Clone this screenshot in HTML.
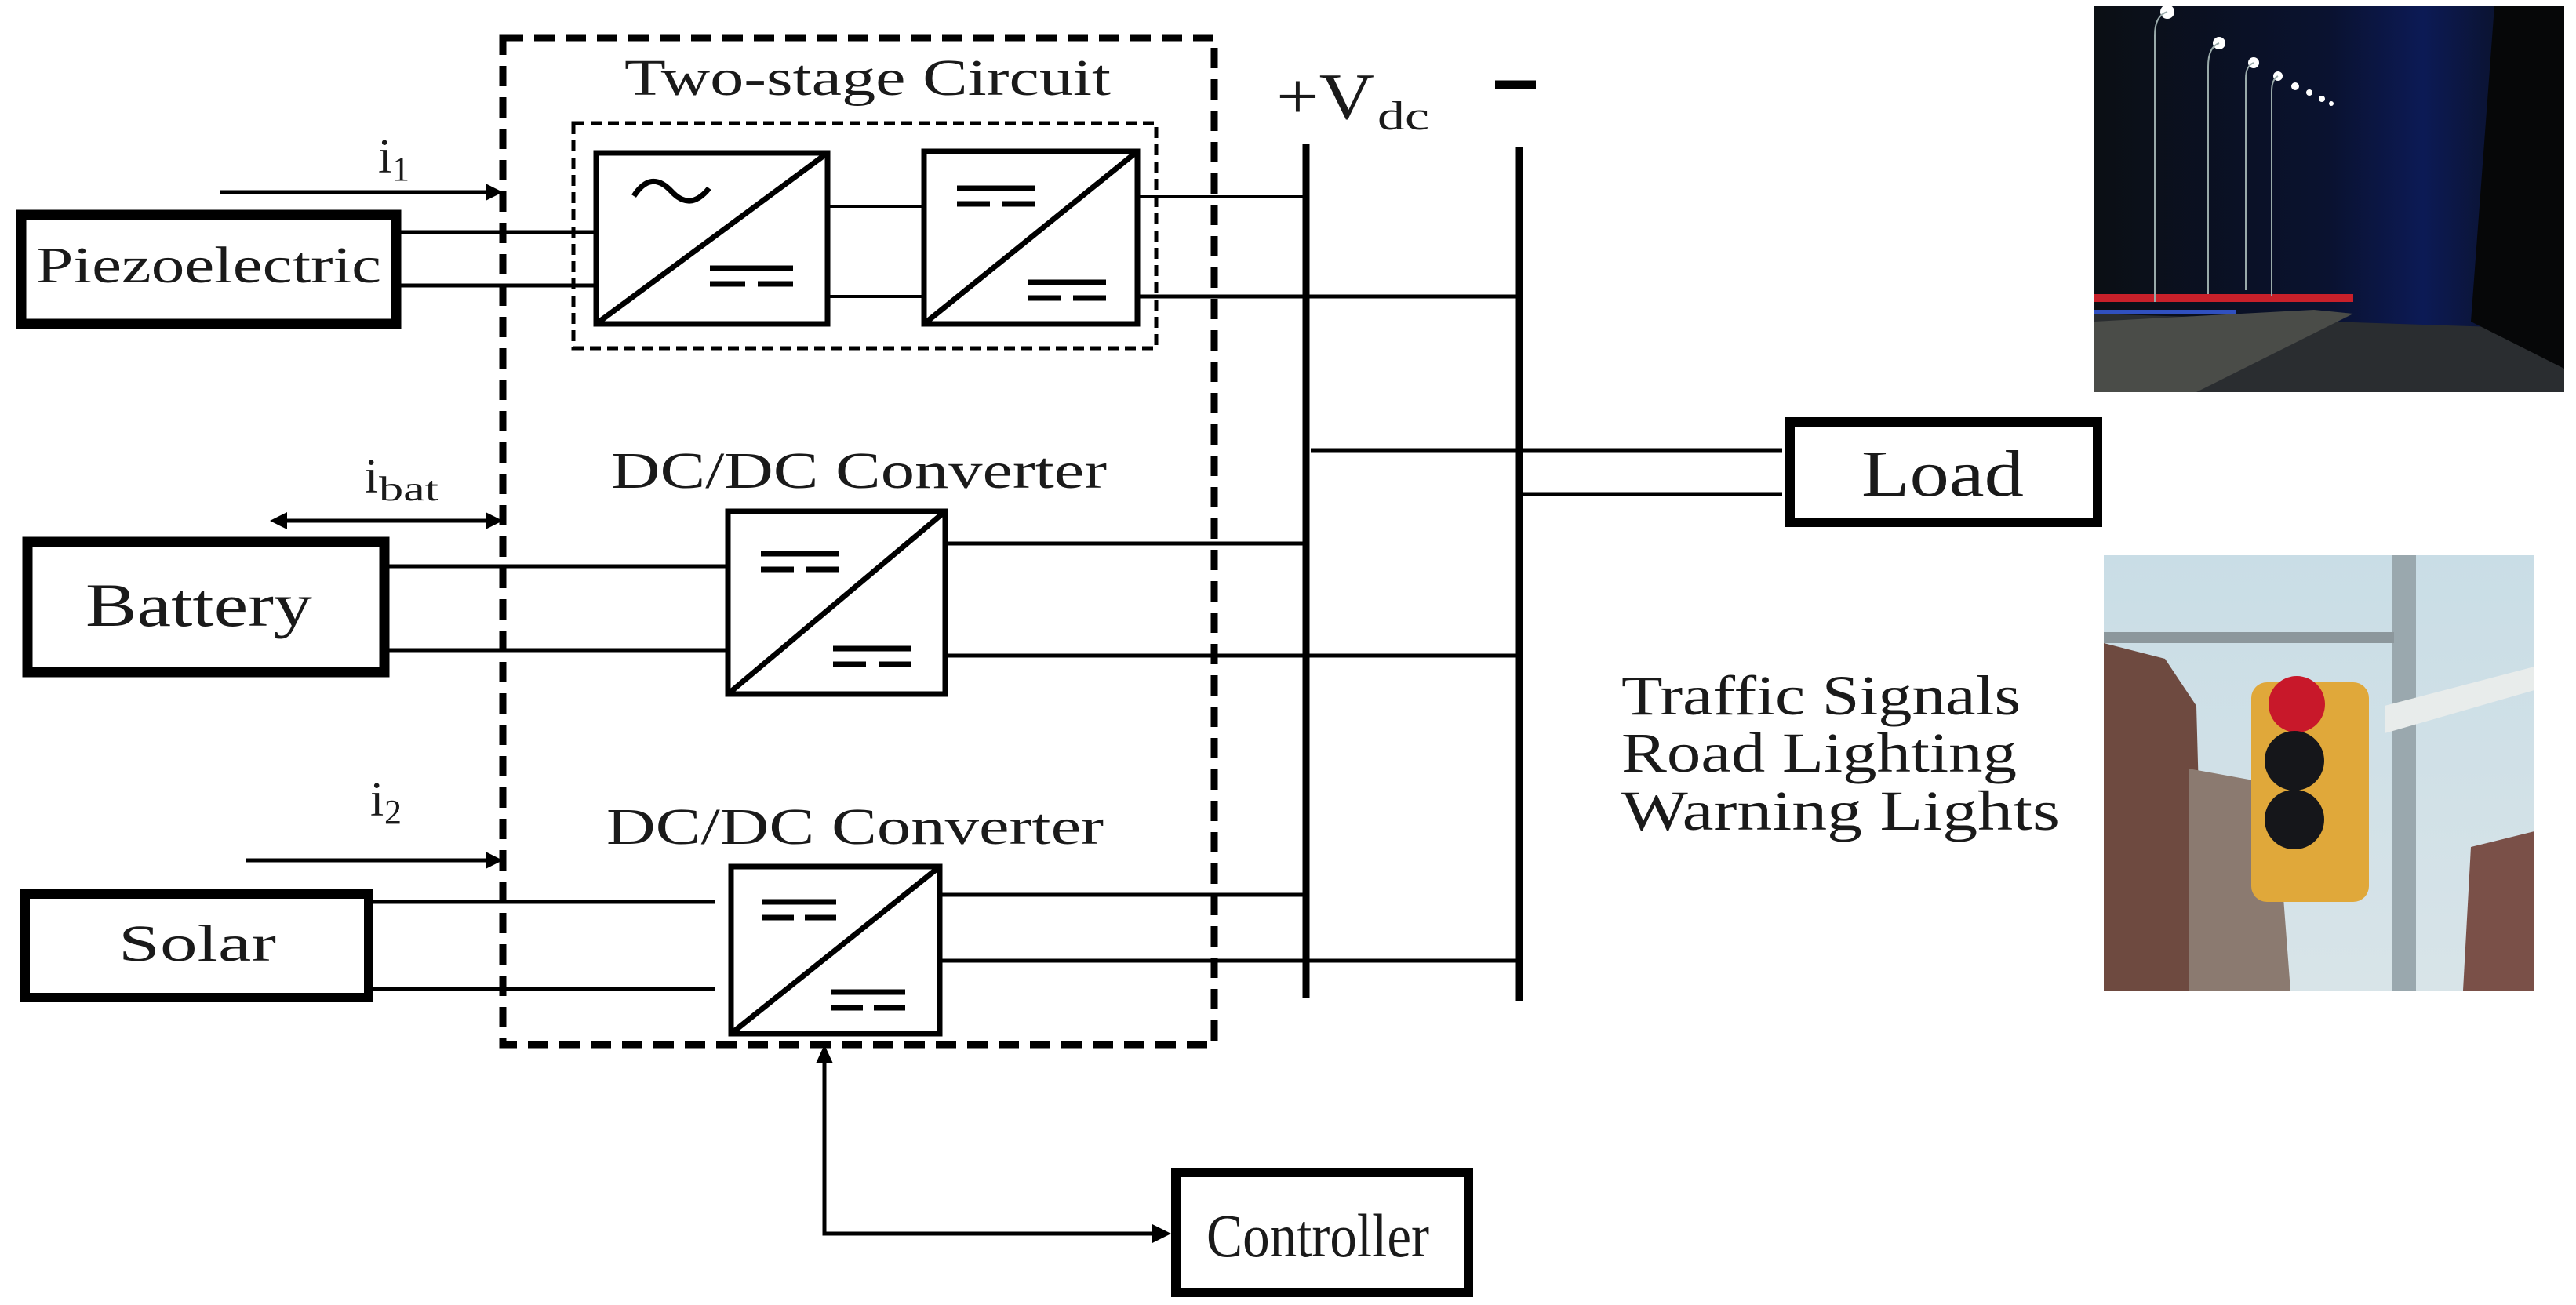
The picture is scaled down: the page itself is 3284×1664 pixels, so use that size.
<!DOCTYPE html>
<html><head><meta charset="utf-8"><style>
html,body{margin:0;padding:0;background:#fff}
svg{display:block}
text{font-family:"Liberation Serif",serif;fill:#1a1a1a}
</style></head><body>
<svg width="3284" height="1664" viewBox="0 0 3284 1664" xmlns="http://www.w3.org/2000/svg">
<defs>
<linearGradient id="night" x1="0" y1="0" x2="1" y2="0">
<stop offset="0" stop-color="#0b0f14"/><stop offset="0.5" stop-color="#0a1230"/><stop offset="0.7" stop-color="#0c1a55"/><stop offset="1" stop-color="#0a0d10"/>
</linearGradient>
<linearGradient id="sky" x1="0" y1="0" x2="0" y2="1">
<stop offset="0" stop-color="#c9dde6"/><stop offset="1" stop-color="#d8e4e8"/>
</linearGradient>
</defs>

<rect x="641" y="48" width="907" height="1284" fill="none" stroke="#000" stroke-width="9" stroke-dasharray="26,14"/>
<text x="796" y="121" font-size="66" textLength="620" lengthAdjust="spacingAndGlyphs">Two-stage Circuit</text>
<rect x="731" y="157" width="743" height="287" fill="none" stroke="#000" stroke-width="5" stroke-dasharray="14,8"/>

<g stroke="#000" fill="none">
<rect x="760" y="195" width="295" height="218" stroke-width="7"/>
<line x1="760" y1="413" x2="1055" y2="195" stroke-width="7"/>
<path d="M808,250 q22,-34 48,-6 q24,26 48,-4" stroke-width="7"/>
<line x1="905" y1="342" x2="1011" y2="342" stroke-width="7"/>
<line x1="905" y1="362" x2="950" y2="362" stroke-width="7"/>
<line x1="966" y1="362" x2="1011" y2="362" stroke-width="7"/>
<rect x="1178" y="193" width="272" height="220" stroke-width="7"/>
<line x1="1178" y1="413" x2="1450" y2="193" stroke-width="7"/>
<line x1="1220" y1="240" x2="1320" y2="240" stroke-width="7"/>
<line x1="1220" y1="260" x2="1262" y2="260" stroke-width="7"/>
<line x1="1278" y1="260" x2="1320" y2="260" stroke-width="7"/>
<line x1="1310" y1="360" x2="1410" y2="360" stroke-width="7"/>
<line x1="1310" y1="380" x2="1352" y2="380" stroke-width="7"/>
<line x1="1368" y1="380" x2="1410" y2="380" stroke-width="7"/>
<line x1="1055" y1="263" x2="1178" y2="263" stroke-width="4"/>
<line x1="1055" y1="378" x2="1178" y2="378" stroke-width="4"/>
<line x1="1450" y1="251" x2="1665" y2="251" stroke-width="4"/>
<line x1="1450" y1="378" x2="1937" y2="378" stroke-width="5"/>

<rect x="27" y="274" width="478" height="139" stroke-width="13"/>
<line x1="511" y1="296" x2="760" y2="296" stroke-width="5"/>
<line x1="511" y1="364" x2="760" y2="364" stroke-width="5"/>
<line x1="281" y1="245" x2="625" y2="245" stroke-width="5"/>

<rect x="35" y="691" width="455" height="166" stroke-width="13"/>
<line x1="496" y1="722" x2="928" y2="722" stroke-width="5"/>
<line x1="496" y1="829" x2="928" y2="829" stroke-width="5"/>
<line x1="362" y1="664" x2="625" y2="664" stroke-width="5"/>
<rect x="928" y="652" width="277" height="233" stroke-width="7"/>
<line x1="928" y1="885" x2="1205" y2="652" stroke-width="7"/>
<line x1="970" y1="706" x2="1070" y2="706" stroke-width="7"/>
<line x1="970" y1="726" x2="1012" y2="726" stroke-width="7"/>
<line x1="1028" y1="726" x2="1070" y2="726" stroke-width="7"/>
<line x1="1062" y1="827" x2="1162" y2="827" stroke-width="7"/>
<line x1="1062" y1="847" x2="1104" y2="847" stroke-width="7"/>
<line x1="1120" y1="847" x2="1162" y2="847" stroke-width="7"/>
<line x1="1205" y1="693" x2="1665" y2="693" stroke-width="5"/>
<line x1="1205" y1="836" x2="1937" y2="836" stroke-width="5"/>

<rect x="32" y="1140" width="438" height="132" stroke-width="12"/>
<line x1="475" y1="1150" x2="911" y2="1150" stroke-width="5"/>
<line x1="475" y1="1261" x2="911" y2="1261" stroke-width="5"/>
<line x1="314" y1="1097" x2="625" y2="1097" stroke-width="5"/>
<rect x="932" y="1105" width="266" height="213" stroke-width="7"/>
<line x1="932" y1="1318" x2="1198" y2="1105" stroke-width="7"/>
<line x1="972" y1="1150" x2="1066" y2="1150" stroke-width="7"/>
<line x1="972" y1="1170" x2="1012" y2="1170" stroke-width="7"/>
<line x1="1026" y1="1170" x2="1066" y2="1170" stroke-width="7"/>
<line x1="1060" y1="1265" x2="1154" y2="1265" stroke-width="7"/>
<line x1="1060" y1="1285" x2="1100" y2="1285" stroke-width="7"/>
<line x1="1114" y1="1285" x2="1154" y2="1285" stroke-width="7"/>
<line x1="1198" y1="1141" x2="1665" y2="1141" stroke-width="5"/>
<line x1="1198" y1="1225" x2="1937" y2="1225" stroke-width="5"/>

<line x1="1665" y1="184" x2="1665" y2="1273" stroke-width="9"/>
<line x1="1937" y1="188" x2="1937" y2="1277" stroke-width="9"/>
<line x1="1906" y1="108" x2="1958" y2="108" stroke-width="11"/>
<line x1="1671" y1="574" x2="2272" y2="574" stroke-width="5"/>
<line x1="1937" y1="630" x2="2272" y2="630" stroke-width="5"/>
<rect x="2282" y="538" width="392" height="128" stroke-width="12"/>

<polyline points="1051,1345 1051,1573 1470,1573" stroke-width="5"/>
<rect x="1499" y="1495" width="373" height="153" stroke-width="12"/>
</g>
<g fill="#000">
<polygon points="641,245 619,234 619,256"/>
<polygon points="641,664 619,653 619,675"/>
<polygon points="344,664 366,653 366,675"/>
<polygon points="641,1097 619,1086 619,1108"/>
<polygon points="1051,1332 1040,1356 1062,1356"/>
<polygon points="1493,1573 1469,1561 1469,1585"/>
</g>

<text x="46" y="360" font-size="66" textLength="440" lengthAdjust="spacingAndGlyphs">Piezoelectric</text>
<text x="109" y="798" font-size="78" textLength="289" lengthAdjust="spacingAndGlyphs">Battery</text>
<text x="151" y="1225" font-size="66" textLength="201" lengthAdjust="spacingAndGlyphs">Solar</text>
<text x="779" y="622" font-size="66" textLength="632" lengthAdjust="spacingAndGlyphs">DC/DC Converter</text>
<text x="773" y="1076" font-size="66" textLength="634" lengthAdjust="spacingAndGlyphs">DC/DC Converter</text>
<text x="482" y="220" font-size="62">i</text><text x="500" y="230" font-size="44">1</text>
<text x="465" y="628" font-size="62">i</text><text x="483" y="638" font-size="44" textLength="76" lengthAdjust="spacingAndGlyphs">bat</text>
<text x="472" y="1040" font-size="62">i</text><text x="490" y="1050" font-size="44">2</text>
<text x="1627" y="151" font-size="84" textLength="125" lengthAdjust="spacingAndGlyphs">+V</text><text x="1756" y="165" font-size="52" textLength="66" lengthAdjust="spacingAndGlyphs">dc</text>
<text x="2373" y="632" font-size="84" textLength="207" lengthAdjust="spacingAndGlyphs">Load</text>
<text x="1538" y="1602" font-size="78" textLength="284" lengthAdjust="spacingAndGlyphs">Controller</text>
<text x="2067" y="911" font-size="72" textLength="509" lengthAdjust="spacingAndGlyphs">Traffic Signals</text>
<text x="2067" y="984" font-size="72" textLength="504" lengthAdjust="spacingAndGlyphs">Road Lighting</text>
<text x="2067" y="1058" font-size="72" textLength="559" lengthAdjust="spacingAndGlyphs">Warning  Lights</text>

<g>
<rect x="2670" y="8" width="599" height="492" fill="url(#night)"/>
<polygon points="2670,400 3269,420 3269,500 2670,500" fill="#2a2d30"/>
<polygon points="2670,410 2950,395 3000,400 2800,500 2670,500" fill="#4a4c48"/>
<rect x="2670" y="375" width="330" height="10" fill="#c8202a"/>
<rect x="2670" y="395" width="180" height="6" fill="#3050c0"/>
<polygon points="3180,8 3269,8 3269,470 3150,410" fill="#060708"/>
<g fill="#fff">
<circle cx="2763" cy="15" r="9"/><circle cx="2829" cy="55" r="8"/><circle cx="2873" cy="80" r="7"/><circle cx="2904" cy="97" r="6"/><circle cx="2926" cy="110" r="5"/><circle cx="2944" cy="118" r="4"/><circle cx="2960" cy="126" r="4"/><circle cx="2972" cy="132" r="3"/>
</g>
<g stroke="#9aa" stroke-width="2" fill="none">
<path d="M2763,15 q-16,5 -16,30 v340"/><path d="M2829,55 q-14,5 -14,30 v290"/><path d="M2873,80 q-10,4 -10,20 v270"/><path d="M2904,97 q-8,4 -8,20 v260"/>
</g>
</g>

<g>
<rect x="2682" y="708" width="549" height="555" fill="url(#sky)"/>
<polygon points="2682,820 2760,840 2800,900 2810,1263 2682,1263" fill="#6e4a40"/>
<polygon points="2790,980 2900,1000 2920,1263 2790,1263" fill="#8b7a70"/>
<polygon points="3150,1080 3231,1060 3231,1263 3140,1263" fill="#7a5048"/>
<rect x="3050" y="708" width="30" height="555" fill="#9aa8ae"/>
<rect x="2682" y="806" width="370" height="14" fill="#8c979c"/>
<polygon points="3040,900 3231,850 3231,880 3040,935" fill="#e8eceb"/>
<rect x="2870" y="870" width="150" height="280" rx="20" fill="#e0a83a"/>
<circle cx="2928" cy="898" r="36" fill="#c8182a"/>
<circle cx="2925" cy="970" r="38" fill="#15161a"/>
<circle cx="2925" cy="1045" r="38" fill="#15161a"/>
</g>
</svg>
</body></html>
